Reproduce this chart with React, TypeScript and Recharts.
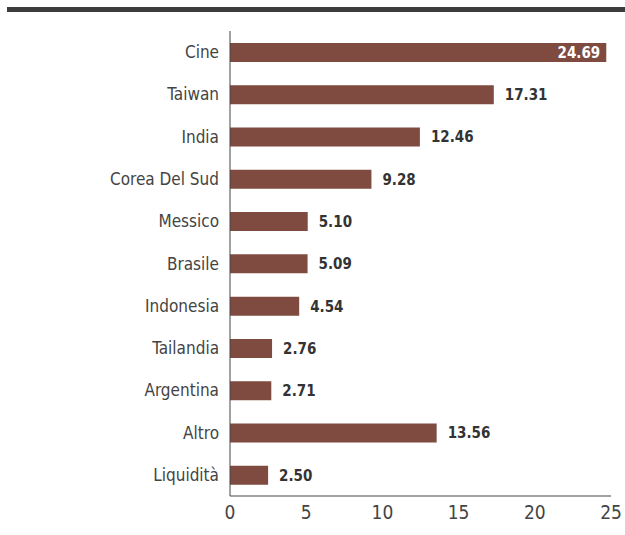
import React from 'react';
import { BarChart, Bar, XAxis, YAxis, LabelList } from 'recharts';

const countries = ['Cine', 'Taiwan', 'India', 'Corea Del Sud', 'Messico', 'Brasile', 'Indonesia', 'Tailandia', 'Argentina', 'Altro', 'Liquidità'];
const weights = [24.69, 17.31, 12.46, 9.28, 5.1, 5.09, 4.54, 2.76, 2.71, 13.56, 2.5];
const xTicks = [0, 5, 10, 15, 20, 25];

const FONT = '"DejaVu Sans Condensed", "DejaVu Sans", sans-serif';
const BAR = '#7f4b41';

const data = countries.map((name, i) => ({ name, value: weights[i] }));

// values that do not fit after the bar are written inside it, in white
const ValueLabel = (props: any) => {
    const { x, y, width, height, value } = props;
    const inside = value > 20;
    return (
        <text
            x={inside ? x + width - 6 : x + width + 11}
            y={y + height / 2}
            dy="0.36em"
            textAnchor={inside ? 'end' : 'start'}
            fill={inside ? '#ffffff' : '#333333'}
            fontFamily={FONT}
            fontWeight="bold"
            fontSize={15}
            style={{ fontStretch: 'condensed' }}
        >
            {Number(value).toFixed(2)}
        </text>
    );
};

export default function App() {
    return (
        <div style={{ position: 'absolute', left: 0, top: 0, width: 625, height: 535, overflow: 'hidden', fontFamily: FONT, fontStretch: 'condensed' }}>
            <div style={{ position: 'absolute', left: 7, top: 7, width: 618, height: 5, background: '#3d3d3d' }} />
            <BarChart
                width={625}
                height={535}
                data={data}
                layout="vertical"
                margin={{ top: 31, right: 14, left: 0, bottom: 0 }}
            >
                <XAxis
                    type="number"
                    domain={[0, 25]}
                    ticks={xTicks}
                    height={39}
                    tickLine={false}
                    tickSize={0}
                    tickMargin={10}
                    axisLine={{ stroke: '#444444', strokeWidth: 1 }}
                    tick={{ fill: '#444444', fontSize: 19, fontFamily: FONT }}
                />
                <YAxis
                    type="category"
                    dataKey="name"
                    width={230}
                    tickLine={false}
                    tickSize={0}
                    tickMargin={11}
                    axisLine={{ stroke: '#444444', strokeWidth: 1 }}
                    tick={{ fill: '#444444', fontSize: 17, fontFamily: FONT }}
                    interval={0}
                />
                <Bar dataKey="value" fill={BAR} barSize={19} isAnimationActive={false}>
                    <LabelList dataKey="value" content={ValueLabel} />
                </Bar>
            </BarChart>
        </div>
    );
}
